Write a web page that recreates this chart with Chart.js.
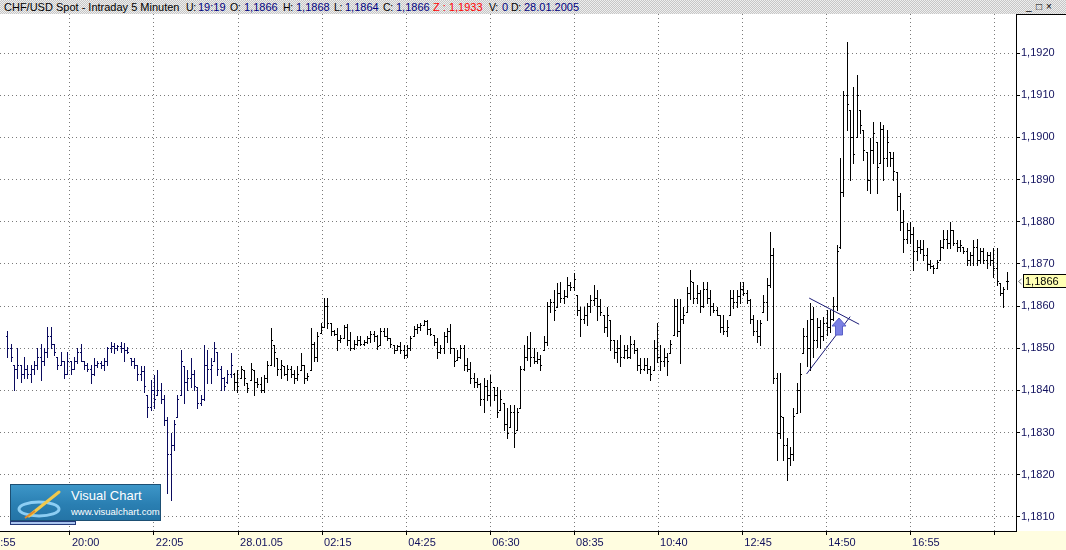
<!DOCTYPE html>
<html><head><meta charset="utf-8">
<script src="https://cdn.jsdelivr.net/npm/chart.js@4.4.1/dist/chart.umd.min.js"></script>
<style>
html,body{margin:0;padding:0;}
body{width:1066px;height:550px;overflow:hidden;position:relative;background:#fff;font-family:"Liberation Sans",Arial,sans-serif;}
#hdr{position:absolute;left:0;top:0;width:1066px;height:14px;background:repeating-conic-gradient(#c6c6c6 0 25%,#eeeeee 0 50%) 0 0/2px 2px;font-size:11px;line-height:14px;white-space:pre;color:#000;}
#hdr span{position:absolute;top:0;}
#hdr span.k{font-size:10.5px;letter-spacing:-0.3px;}
.v{color:#000080}
.z{color:#ff0000}
#btns{position:absolute;left:1025px;top:1px;height:12px;font-size:10px;line-height:12px;color:#000;}
#btns span{position:absolute;top:0;}
#wrap{position:absolute;left:0;top:14px;width:1066px;height:536px;}
#logo{position:absolute;left:10px;top:484px;width:151px;height:37px;box-sizing:border-box;border:1px solid #1d4f73;background:linear-gradient(180deg,#3d96c8 0%,#2a7fb2 55%,#2474a6 100%);overflow:hidden;}
#logo .l1{position:absolute;left:60px;top:4px;font-size:13px;line-height:14px;color:#fff;}
#logo .l2{position:absolute;left:60px;top:21px;font-size:9.5px;line-height:11px;color:#fff;}
#logo svg{position:absolute;left:4px;top:3px;}
#tab{position:absolute;left:10px;top:521px;width:66px;height:4px;box-sizing:border-box;border:1px solid #243a7a;background:#a9c4ee;}
</style>
</head>
<body>
<div id="hdr">
<span style="left:4px">CHF/USD Spot - Intraday 5 Minuten</span>
<span class="k" style="left:186px">U:</span><span class="v" style="left:198px">19:19</span>
<span class="k" style="left:230px">O:</span><span class="v" style="left:244px">1,1866</span>
<span class="k" style="left:283px">H:</span><span class="v" style="left:296px">1,1868</span>
<span class="k" style="left:334px">L:</span><span class="v" style="left:345px">1,1864</span>
<span class="k" style="left:383px">C:</span><span class="v" style="left:396px">1,1866</span>
<span class="z" style="left:433px">Z : 1,1933</span>
<span class="k" style="left:489px">V:</span><span class="v" style="left:502px">0</span>
<span class="k" style="left:511px">D:</span><span class="v" style="left:524px">28.01.2005</span>
<div id="btns"><span style="left:1px">_</span><span style="left:11px">□</span><span style="left:21px">×</span></div></div>
<div id="wrap"><canvas id="c" width="1066" height="536"></canvas></div>
<div id="logo">
<svg width="56" height="32" viewBox="0 0 56 32">
<ellipse cx="24" cy="21" rx="20" ry="7" fill="none" stroke="#9fdcff" stroke-width="3" opacity="0.85"/>
<path d="M14 28 L44 4" stroke="#f2c94c" stroke-width="3" stroke-linecap="round"/>
<path d="M10 30 L20 23" stroke="#e08a2a" stroke-width="2"/>
</svg>
<div class="l1">Visual Chart</div>
<div class="l2">www.visualchart.com</div>
</div>
<div id="tab"></div>
<script>
// ---- data (5-minute OHLC bars, CHF/USD) ----
const opens = [
1.1853,1.1850,1.1846,1.1845,1.1846,1.1844,1.1845,1.1844,1.1845,1.1846,
1.1848,1.1847,1.1849,1.1853,1.1851,1.1848,1.1846,1.1847,1.1844,1.1847,
1.1845,1.1847,1.1849,1.1847,1.1846,1.1845,1.1844,1.1846,1.18465,1.1846,
1.1847,1.1850,1.18505,1.1850,1.18505,1.1850,1.18495,1.18476,1.1847,1.1846,
1.1844,1.18445,1.1839,1.1836,1.1840,1.18389,1.1840,1.1838,1.1833,1.1825,
1.1827,1.18338,1.18389,1.18457,1.1842,1.1843,1.1844,1.18409,1.1837,1.1838,
1.1846,1.1845,1.1847,1.18492,1.1845,1.1843,1.1842,1.1844,1.1844,1.1842,
1.1843,1.18449,1.18417,1.18425,1.18449,1.1842,1.18415,1.184,1.1843,1.1846,
1.18508,1.18476,1.1845,1.18457,1.1844,1.1845,1.1844,1.1843,1.18449,1.1846,
1.1843,1.18449,1.1851,1.1848,1.18536,1.18551,1.186,1.18559,1.1854,1.18535,
1.1852,
1.18525,1.1855,1.1852,1.185,1.1851,1.1852,1.1851,1.18515,1.18525,1.18535,
1.1853,1.18508,1.1854,1.1853,1.18524,1.18508,1.18496,1.18505,1.18495,1.18485,
1.185,1.18528,1.18545,1.1855,1.18555,1.18565,1.18545,1.18532,1.18515,1.1849,
1.185,1.1853,1.1854,1.185,1.18472,1.1848,1.185,1.1846,1.1845,1.1843,
1.1842,1.18415,1.1838,1.1841,1.1839,1.18409,1.1839,1.18354,1.1837,1.1832,
1.18314,
1.1835,1.18306,1.18358,1.1845,1.1848,1.185,1.1848,1.1847,1.18475,1.18496,
1.18515,1.186,1.1861,1.18599,1.1863,1.1862,1.18625,1.1865,1.18645,1.18626,
1.1859,1.1857,1.1858,1.186,1.18615,1.1862,1.186,1.18579,1.1855,1.18567,
1.1852,1.1849,1.185,1.1848,1.18495,1.1848,1.1851,1.18495,1.1846,1.1845,
1.1846,1.1845,1.18449,1.185,1.1848,1.1847,1.1848,1.18488,1.18532,1.186,
1.1854,
1.1857,1.18587,1.1863,1.18658,1.1862,1.1863,1.186,1.1864,1.1862,1.186,
1.1859,1.18579,1.1855,1.1854,1.18579,1.1862,1.1861,1.18625,1.1864,1.1863,
1.18615,1.1857,1.1854,1.1853,1.18587,1.1861,1.1865,1.1872,1.1843,1.183,
1.18338,1.1827,1.1824,1.1825,1.18346,1.184,1.18488,1.1853,1.185,1.1857,
1.1852,1.1855,1.1853,1.1856,1.1855,1.1857,
1.186,1.1874,1.1887,1.191,1.19065,1.19,1.19002,1.19065,1.19018,1.18966,
1.189,1.1897,1.1899,1.18939,1.1902,1.1895,1.18966,1.1895,1.18919,1.1886,
1.188,1.1876,1.1878,1.1877,1.1873,1.1874,1.18735,1.1872,1.187,1.18695,
1.1869,1.1871,1.1874,1.1876,1.1875,1.1878,1.1875,1.1874,1.1874,1.1873,
1.1871,1.1872,1.1874,1.1871,1.1873,1.1871,1.1872,1.1871,1.1869,1.18654,
1.1863,1.1866
];
const highs = [
1.1854,1.1851,1.1846,1.1850,1.1846,1.1848,1.1846,1.1846,1.1847,1.1850,
1.1851,1.1850,1.1855,1.1855,1.1851,1.1848,1.1849,1.1847,1.1849,1.1847,
1.1848,1.1850,1.1851,1.1847,1.18465,1.1846,1.18476,1.18469,1.1847,1.18476,
1.18504,1.18516,1.18512,1.18508,1.18516,1.18512,1.18504,1.18476,1.18476,1.1846,
1.18457,1.18457,1.1839,1.18425,1.18437,1.18449,1.18417,1.18389,1.18338,1.18299,
1.1833,1.1839,1.18496,1.18457,1.18449,1.18476,1.18449,1.18409,1.18389,1.18508,
1.18496,1.18476,1.18516,1.18492,1.18457,1.18433,1.18449,1.18488,1.18441,1.18449,
1.18457,1.18449,1.18417,1.18465,1.18449,1.18429,1.18433,1.18437,1.18469,1.18547,
1.18508,1.18476,1.18472,1.18457,1.18461,1.18457,1.18449,1.18457,1.18488,1.18461,
1.18441,1.18547,1.18516,1.18539,1.18559,1.18619,1.18619,1.18559,1.18543,1.18547,
1.18532,
1.18555,1.18558,1.18539,1.1852,1.18528,1.1853,1.1852,1.18528,1.1854,1.18542,
1.18532,1.18547,1.18547,1.18547,1.18524,1.18508,1.18508,1.18516,1.18508,1.18508,
1.1853,1.18553,1.18558,1.18559,1.18566,1.18566,1.18547,1.18532,1.18524,1.18508,
1.18539,1.18547,1.18558,1.185,1.18496,1.18508,1.18508,1.18476,1.18468,1.18441,
1.18429,1.18417,1.18429,1.18425,1.18437,1.18409,1.18409,1.18401,1.1837,1.18358,
1.18366,
1.18366,1.18358,1.18457,1.18508,1.18528,1.18539,1.185,1.18492,1.18484,1.18528,
1.1861,1.18618,1.18638,1.18654,1.18658,1.18638,1.1867,1.18658,1.18678,1.18626,
1.18599,1.18599,1.18607,1.18626,1.1865,1.18638,1.18618,1.18579,1.18599,1.18567,
1.1852,1.1852,1.18532,1.18508,1.18508,1.18528,1.1852,1.185,1.18476,1.18476,
1.18476,1.18457,1.1852,1.18559,1.18508,1.185,1.18488,1.1852,1.18618,1.18618,
1.18618,
1.18599,1.18646,1.18686,1.18658,1.1865,1.18638,1.18658,1.18658,1.18638,1.18607,
1.18599,1.18579,1.18579,1.18567,1.18638,1.18638,1.18638,1.18658,1.18658,1.18638,
1.18618,1.18579,1.18567,1.18567,1.18626,1.18666,1.18776,1.18737,1.18441,1.18441,
1.18338,1.18287,1.18267,1.18358,1.18417,1.18464,1.18547,1.18567,1.18607,1.18599,
1.18571,1.18567,1.18575,1.18591,1.18591,1.18622,
1.18745,1.1895,1.1911,1.19227,1.19065,1.1912,1.19148,1.19065,1.19018,1.18966,
1.18998,1.19037,1.1899,1.19037,1.19029,1.19018,1.18966,1.18966,1.18919,1.18867,
1.18828,1.18796,1.188,1.18788,1.18757,1.18757,1.18757,1.18737,1.1871,1.18698,
1.1871,1.18757,1.18781,1.18781,1.188,1.18781,1.18757,1.18757,1.18741,1.18737,
1.18729,1.18757,1.18758,1.18737,1.18737,1.18729,1.18729,1.18737,1.18737,1.18654,
1.18646,1.1868
];
const lows = [
1.1848,1.1847,1.1840,1.1843,1.1842,1.1843,1.1843,1.1842,1.1844,1.1845,
1.18425,1.1846,1.1848,1.1850,1.18485,1.1845,1.1846,1.1843,1.1844,1.1844,
1.1845,1.18465,1.1847,1.1845,1.18445,1.18417,1.18437,1.18456,1.18453,1.18449,
1.1846,1.18492,1.18488,1.18496,1.18492,1.18469,1.18488,1.1846,1.18453,1.18425,
1.18425,1.18397,1.18338,1.18354,1.18358,1.18389,1.1837,1.18318,1.18156,1.18141,
1.18259,1.18338,1.18389,1.1837,1.18401,1.18409,1.18401,1.18358,1.18366,1.18378,
1.18417,1.18417,1.18469,1.18437,1.18401,1.18401,1.18417,1.18433,1.18401,1.18397,
1.18429,1.18413,1.18397,1.18425,1.18389,1.18409,1.18397,1.18397,1.18421,1.1846,
1.18457,1.18437,1.18429,1.18437,1.18425,1.18433,1.18417,1.18425,1.18449,1.18417,
1.18425,1.18449,1.18469,1.18469,1.18536,1.18551,1.18547,1.18532,1.18532,1.18496,
1.18516,
1.18524,1.18508,1.18496,1.18498,1.18508,1.18508,1.18508,1.18512,1.18516,1.18518,
1.18498,1.18508,1.18528,1.1852,1.18504,1.18488,1.18496,1.18488,1.18476,1.1848,
1.18496,1.18528,1.18537,1.18543,1.18555,1.18535,1.18532,1.18508,1.18476,1.18488,
1.18488,1.18516,1.18488,1.18457,1.18472,1.18476,1.18449,1.18445,1.18417,1.18409,
1.18409,1.18366,1.1835,1.18378,1.18366,1.18378,1.18338,1.18354,1.18306,1.18287,
1.18314,
1.18267,1.18306,1.18358,1.18449,1.18472,1.18457,1.18464,1.18464,1.18449,1.18496,
1.18508,1.18587,1.18567,1.18599,1.1861,1.18607,1.18622,1.18638,1.18638,1.18579,
1.18528,1.18559,1.18555,1.18587,1.18603,1.18567,1.18579,1.18539,1.18528,1.18496,
1.18476,1.18468,1.18457,1.18476,1.18476,1.18476,1.18488,1.18449,1.18441,1.18449,
1.18441,1.18425,1.18449,1.18468,1.18449,1.18457,1.18437,1.18488,1.18532,1.18528,
1.18464,
1.18559,1.18587,1.18618,1.18607,1.18607,1.18587,1.18599,1.18607,1.18579,1.18587,
1.18579,1.18539,1.18535,1.18528,1.18579,1.18595,1.18599,1.18607,1.18626,1.18607,
1.18559,1.18532,1.18516,1.18508,1.18587,1.18567,1.18646,1.18417,1.18235,1.18287,
1.18235,1.18188,1.18223,1.18235,1.18346,1.1835,1.18488,1.18457,1.18449,1.1848,
1.18504,1.185,1.1852,1.18532,1.18539,1.18567,
1.18591,1.18737,1.1886,1.19018,1.189,1.18939,1.19002,1.1901,1.18946,1.18875,
1.18867,1.18939,1.18867,1.18939,1.18899,1.18931,1.18931,1.18899,1.18828,1.18781,
1.18729,1.18749,1.18749,1.18686,1.1871,1.18725,1.1871,1.18686,1.1869,1.18678,
1.1869,1.1871,1.18737,1.18737,1.18737,1.18745,1.1873,1.1873,1.18725,1.18698,
1.18698,1.18698,1.18698,1.18702,1.18702,1.1869,1.18698,1.1867,1.1865,1.18626,
1.18599,1.1864
];
const closes = [
1.1850,1.1848,1.1845,1.1846,1.1844,1.1845,1.1844,1.1845,1.1846,1.1848,
1.1847,1.1849,1.1853,1.1851,1.1849,1.1846,1.1847,1.1844,1.1847,1.1845,
1.1847,1.1849,1.1847,1.1846,1.1845,1.1844,1.1846,1.18465,1.1846,1.1847,
1.1850,1.18505,1.1850,1.18505,1.1850,1.18495,1.1849,1.1847,1.1846,1.1844,
1.18445,1.1841,1.1836,1.1840,1.1838,1.1840,1.1838,1.1833,1.1825,1.1827,
1.1832,1.1838,1.1847,1.1842,1.1843,1.1844,1.1841,1.1837,1.1838,1.1846,
1.1845,1.1846,1.185,1.1845,1.1843,1.1841,1.1844,1.1846,1.1842,1.1841,
1.1845,1.1843,1.18405,1.1845,1.1842,1.18415,1.184,1.1843,1.1846,1.1852,
1.1849,1.1845,1.1846,1.1844,1.1845,1.1844,1.1843,1.1844,1.1846,1.1843,
1.18435,1.1851,1.1848,1.1853,1.1855,1.186,1.1856,1.1854,1.18535,1.1852,
1.18525,
1.1855,1.1852,1.185,1.1851,1.1852,1.1851,1.18515,1.18525,1.18535,1.1853,
1.18505,1.1854,1.1853,1.18525,1.1851,1.18495,1.18505,1.18495,1.18485,1.185,
1.18525,1.18545,1.1855,1.18555,1.18565,1.18545,1.18535,1.18515,1.1849,1.185,
1.1853,1.1854,1.185,1.1847,1.1848,1.185,1.1846,1.1845,1.1843,1.1842,
1.18415,1.1838,1.1841,1.1839,1.1842,1.1839,1.1835,1.1838,1.1832,1.183,
1.1835,
1.183,1.1835,1.1845,1.1848,1.185,1.1848,1.1847,1.18475,1.1846,1.18515,
1.186,1.1861,1.1859,1.1863,1.1862,1.18625,1.1865,1.18645,1.18665,1.1859,
1.1857,1.1858,1.186,1.18615,1.1862,1.186,1.18585,1.1855,1.1858,1.1852,
1.1849,1.185,1.1848,1.18495,1.1848,1.1851,1.18495,1.1846,1.1845,1.1846,
1.1845,1.1844,1.185,1.1848,1.1847,1.1848,1.1847,1.1851,1.186,1.1854,
1.1857,
1.1858,1.1863,1.1866,1.1862,1.1863,1.186,1.1864,1.1862,1.186,1.1859,
1.1858,1.1855,1.1854,1.1855,1.1862,1.1861,1.18625,1.1864,1.1863,1.18615,
1.1857,1.1854,1.1853,1.1856,1.1861,1.1865,1.1872,1.1843,1.183,1.1834,
1.1827,1.1824,1.1825,1.1834,1.184,1.1844,1.1853,1.185,1.1857,1.1852,
1.1855,1.1853,1.1856,1.1855,1.1857,1.186,
1.1873,1.1887,1.191,1.1908,1.19,1.1896,1.191,1.1903,1.1897,1.189,
1.1897,1.1901,1.1893,1.1902,1.1895,1.1899,1.1895,1.1892,1.1886,1.188,
1.1876,1.1878,1.1877,1.1873,1.1874,1.18735,1.1872,1.187,1.18695,1.1869,
1.18705,1.1874,1.1876,1.1875,1.1878,1.1875,1.1874,1.18745,1.1873,1.1871,
1.1872,1.1874,1.1871,1.1873,1.1871,1.1872,1.1871,1.1869,1.1866,1.1863,
1.1864,1.1866
];
// x-axis ticks (bar-index positions) and their labels
const tickPositions = [-6.6, 18.6, 43.8, 69.1, 94.3, 119.6, 144.8, 170.0, 195.2, 220.5, 245.7, 270.9, 296.1];
const tickLabels = ["17:55","20:00","22:05","28.01.05","02:15","04:25","06:30","08:35","10:40","12:45","14:50","16:55",""];
const priceTicks = [1.181,1.182,1.183,1.184,1.185,1.186,1.187,1.188,1.189,1.190,1.191,1.192];
// drawing annotations (bar index, price)
const trendLines = [[240.6, 1.18619, 255.6, 1.18557], [239.8, 1.18439, 252.9, 1.18575]];
const signalArrow = [249.6, 1.18572];
const firstBarOfDay = 68;

const prevDayColor = '#0b0b5e';
const dayColor = '#000000';
const axisText = '#12125e';

const barData = highs.map((h, i) => ({x: i, y: [lows[i], h]}));

const bgPlugin = {
  id: 'bg',
  beforeDraw(chart) {
    const {ctx, chartArea: ca, width, height} = chart;
    ctx.save();
    ctx.fillStyle = '#ffffff';
    ctx.fillRect(0, 0, width, height);
    ctx.fillStyle = '#fffde0';
    ctx.fillRect(0, ca.bottom, width, height - ca.bottom);
    ctx.restore();
  }
};

const ohlcPlugin = {
  id: 'ohlc',
  afterDatasetsDraw(chart) {
    const ctx = chart.ctx;
    const ys = chart.scales.y;
    const meta = chart.getDatasetMeta(0);
    ctx.save();
    meta.data.forEach((el, i) => {
      const x = Math.floor(el.x);
      const top = Math.round(ys.getPixelForValue(highs[i]));
      const bot = Math.round(ys.getPixelForValue(lows[i]));
      const yo = Math.round(ys.getPixelForValue(opens[i]));
      const yc = Math.round(ys.getPixelForValue(closes[i]));
      ctx.fillStyle = i < firstBarOfDay ? prevDayColor : dayColor;
      ctx.fillRect(x, top, 1, Math.max(1, bot - top + 1));
      ctx.fillRect(x - 1, yo, 1, 1);
      ctx.fillRect(x + 1, yc, 1, 1);
    });
    const xs = chart.scales.x;
    ctx.strokeStyle = '#1c1c78';
    ctx.lineWidth = 1;
    trendLines.forEach(l => {
      ctx.beginPath();
      ctx.moveTo(xs.getPixelForValue(l[0]), ys.getPixelForValue(l[1]));
      ctx.lineTo(xs.getPixelForValue(l[2]), ys.getPixelForValue(l[3]));
      ctx.stroke();
    });
    const ax = Math.round(xs.getPixelForValue(signalArrow[0]));
    const ay = Math.round(ys.getPixelForValue(signalArrow[1]));
    ctx.fillStyle = '#7a80e4';
    ctx.strokeStyle = '#5a60c8';
    ctx.beginPath();
    ctx.moveTo(ax, ay);
    ctx.lineTo(ax + 7, ay + 8);
    ctx.lineTo(ax + 3.5, ay + 8);
    ctx.lineTo(ax + 3.5, ay + 17);
    ctx.lineTo(ax - 3.5, ay + 17);
    ctx.lineTo(ax - 3.5, ay + 8);
    ctx.lineTo(ax - 7, ay + 8);
    ctx.closePath();
    ctx.fill();
    ctx.stroke();
    ctx.restore();
  },
  afterDraw(chart) {
    const ctx = chart.ctx;
    const ys = chart.scales.y;
    const ca = chart.chartArea;
    const last = closes[closes.length - 1];
    const y = Math.round(ys.getPixelForValue(last));
    ctx.save();
    ctx.fillStyle = '#000';
    ctx.fillRect(ca.right, 0, chart.width - ca.right, 1);
    ctx.strokeStyle = '#808080';
    ctx.beginPath();
    ctx.moveTo(ca.right + 5.5, y - 2);
    ctx.lineTo(ca.right + 2.5, y + 0.5);
    ctx.lineTo(ca.right + 5.5, y + 3);
    ctx.stroke();
    ctx.fillStyle = '#ffffb4';
    ctx.fillRect(ca.right + 7, y - 7, chart.width - ca.right - 7, 14);
    ctx.strokeStyle = '#000';
    ctx.strokeRect(ca.right + 7.5, y - 6.5, chart.width - ca.right - 7, 13);
    ctx.fillStyle = '#000';
    ctx.font = '11px "Liberation Sans", Arial, sans-serif';
    ctx.textBaseline = 'middle';
    ctx.textAlign = 'left';
    ctx.fillText(last.toFixed(4).replace('.', ','), ca.right + 9, y + 1);
    ctx.restore();
  }
};

const chart = new Chart(document.getElementById('c'), {
  type: 'bar',
  data: {
    datasets: [{
      data: barData,
      backgroundColor: 'rgba(0,0,0,0)',
      borderWidth: 0,
      barThickness: 1,
      inflateAmount: 0
    }]
  },
  options: {
    responsive: false,
    animation: false,
    devicePixelRatio: 1,
    layout: {padding: 0},
    plugins: {legend: {display: false}, tooltip: {enabled: false}},
    scales: {
      x: {
        type: 'linear',
        position: 'bottom',
        offset: false,
        min: -2.4024,
        max: 302.7027,
        afterBuildTicks: s => { s.ticks = tickPositions.map(v => ({value: v})); },
        afterFit: s => { s.height = 19; s.paddingLeft = 0; s.paddingRight = 0; },
        grid: {
          offset: false,
          color: '#7a7a7a',
          lineWidth: 1,
          drawTicks: true,
          tickLength: 4,
          tickColor: '#000000',
          tickBorderDash: []
        },
        border: {display: true, color: '#000000', width: 1, dash: [1, 3]},
        ticks: {
          autoSkip: false,
          maxRotation: 0,
          minRotation: 0,
          align: 'start',
          labelOffset: 2,
          padding: 1,
          color: axisText,
          font: {family: '"Liberation Sans", Arial, sans-serif', size: 11},
          callback: (v, i) => tickLabels[i]
        }
      },
      y: {
        type: 'linear',
        position: 'right',
        beginAtZero: false,
        min: 1.180668,
        max: 1.192925,
        afterBuildTicks: s => { s.ticks = priceTicks.map(v => ({value: v})); },
        afterFit: s => { s.width = 50; s.paddingTop = 0; s.paddingBottom = 0; },
        grid: {
          color: '#7a7a7a',
          lineWidth: 1,
          drawTicks: true,
          tickLength: 4,
          tickColor: '#000000',
          tickBorderDash: []
        },
        border: {display: true, color: '#000000', width: 1, dash: [1, 3]},
        ticks: {
          padding: 1,
          color: axisText,
          font: {family: '"Liberation Sans", Arial, sans-serif', size: 11},
          callback: v => Number(v).toFixed(4).replace('.', ',')
        }
      }
    }
  },
  plugins: [bgPlugin, ohlcPlugin]
});
</script>
</body></html>
